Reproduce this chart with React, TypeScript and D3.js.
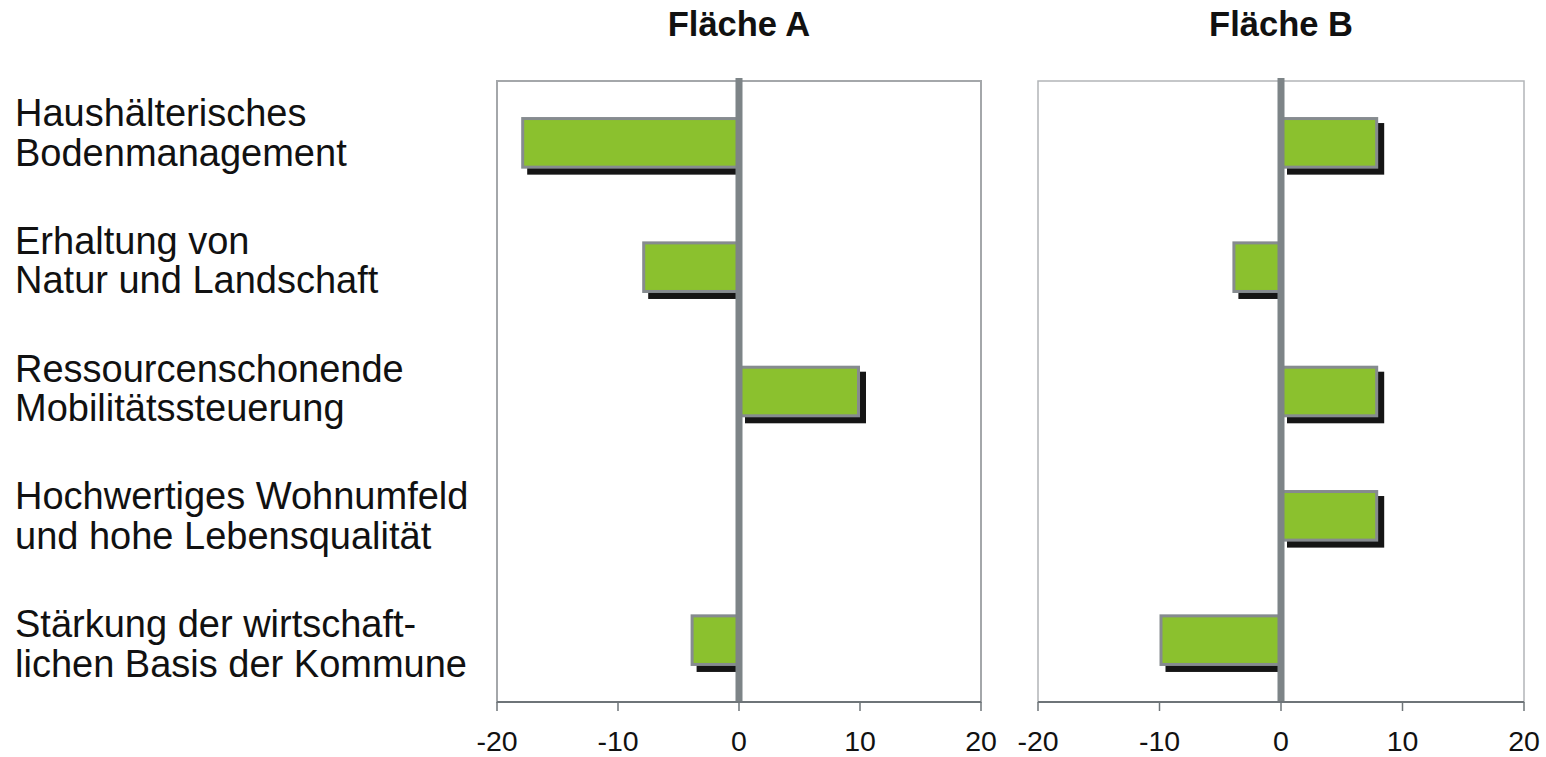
import React from "react";
import * as d3 from "d3";

// Categories (two-line labels) and the values for the two areas
const categories: string[][] = [
  ["Haushälterisches", "Bodenmanagement"],
  ["Erhaltung von", "Natur und Landschaft"],
  ["Ressourcenschonende", "Mobilitätssteuerung"],
  ["Hochwertiges Wohnumfeld", "und hohe Lebensqualität"],
  ["Stärkung der wirtschaft-", "lichen Basis der Kommune"],
];
const valuesA: number[] = [-18, -8, 10, 0, -4];
const valuesB: number[] = [8, -4, 8, 8, -10];
const panelTitles: string[] = ["Fläche A", "Fläche B"];
const tickValues: number[] = [-20, -10, 0, 10, 20];

const W = 1546;
const H = 757;
const FONT = "'Liberation Sans', Arial, Helvetica, sans-serif";

const top = 81;
const bottom = 702;
const panels = [
  { left: 497, right: 981, values: valuesA, title: panelTitles[0], frameW: 2, frameC: "#a4a7aa" },
  { left: 1038, right: 1524, values: valuesB, title: panelTitles[1], frameW: 1.5, frameC: "#b2b5b8" },
];

const idx = categories.map((_, i) => String(i));
const y = d3.scaleBand<string>().domain(idx).range([top, bottom]).paddingInner(0.585).paddingOuter(0.29);
const labelY = d3.scaleLinear().domain([0, categories.length - 1]).range([126, 637]);

const BAR_FILL = "#8bc12e";
const BAR_STROKE = "#868b8f";
const SHADOW = "#151515";
const ZERO = "#7d8487";

function Panel({ p }: { p: typeof panels[number] }) {
  const x = d3.scaleLinear().domain([-20, 20]).range([p.left, p.right]);
  const x0 = x(0);
  const bh = y.bandwidth();
  const sh = 6;
  return (
    <g>
      <text x={x0} y={36} textAnchor="middle" fontFamily={FONT} fontWeight="bold" fontSize={34.5} fill="#111">
        {p.title}
      </text>
      <rect x={p.left} y={top} width={p.right - p.left} height={bottom - top} fill="#fff" stroke={p.frameC} strokeWidth={p.frameW} />
      {p.values.map((v, i) => {
        if (v === 0) return null;
        const yy = y(String(i))!;
        const xa = Math.min(x(v), x0);
        const xb = Math.max(x(v), x0);
        // shadow is offset down/right but never crosses the zero line
        const sx = xa + sh;
        const sw = v < 0 ? x0 - sx : xb - xa;
        return (
          <g key={i}>
            <rect x={sx} y={yy + sh} width={sw} height={bh} fill={SHADOW} />
            <rect x={xa + 1.5} y={yy + 1.5} width={xb - xa - 3} height={bh - 3} fill={BAR_FILL} stroke={BAR_STROKE} strokeWidth={3} />
          </g>
        );
      })}
      {/* zero line */}
      <line x1={x0} x2={x0} y1={top - 3} y2={bottom} stroke={ZERO} strokeWidth={7} />
      {/* bottom axis */}
      <line x1={p.left} x2={p.right} y1={bottom} y2={bottom} stroke="#6e7478" strokeWidth={2} />
      {tickValues.map((t) => (
        <g key={t}>
          <line x1={x(t)} x2={x(t)} y1={bottom} y2={bottom + 9} stroke="#6e7478" strokeWidth={1.5} />
          <text x={x(t)} y={751} textAnchor="middle" fontFamily={FONT} fontSize={28.5} fill="#111">
            {t}
          </text>
        </g>
      ))}
    </g>
  );
}

export default function App() {
  return (
    <svg width={W} height={H} style={{ position: "absolute", left: 0, top: 0, background: "#fff" }}>
      <rect width={W} height={H} fill="#fff" />
      {categories.map((lines, i) => (
        <text key={i} fontFamily={FONT} fontSize={38} fill="#111">
          {lines.map((l, j) => (
            <tspan key={j} x={15} y={labelY(i) + j * 39.5}>
              {l}
            </tspan>
          ))}
        </text>
      ))}
      {panels.map((p, i) => (
        <Panel key={i} p={p} />
      ))}
    </svg>
  );
}
